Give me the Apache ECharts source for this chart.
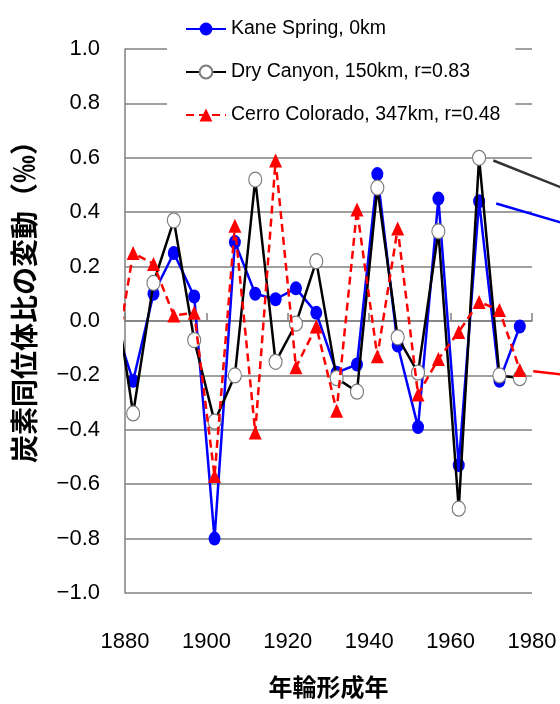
<!DOCTYPE html>
<html>
<head>
<meta charset="utf-8">
<script src="https://cdn.jsdelivr.net/npm/echarts@6.0.0/dist/echarts.min.js"></script>
<style>
html,body{margin:0;padding:0;background:#fff;}
#chart{width:560px;height:704px;}
</style>
</head>
<body>
<div id="chart"></div>
<script>
// ---- data ----
var years = [1877,1882,1887,1892,1897,1902,1907,1912,1917,1922,1927,1932,1937,1942,1947,1952,1957,1962,1967,1972,1977];
var kaneSpring = [0.01,-0.22,0.10,0.25,0.09,-0.80,0.29,0.10,0.08,0.12,0.03,-0.19,-0.16,0.54,-0.09,-0.39,0.45,-0.53,0.44,-0.22,-0.02];
var dryCanyon  = [0.15,-0.34,0.14,0.37,-0.07,-0.37,-0.20,0.52,-0.15,-0.01,0.22,-0.21,-0.26,0.49,-0.06,-0.19,0.33,-0.69,0.60,-0.20,-0.21];
var cerroColorado = [-0.20,0.25,0.21,0.02,0.03,-0.57,0.35,-0.41,0.59,-0.17,-0.02,-0.33,0.41,-0.13,0.34,-0.27,-0.14,-0.04,0.07,0.04,-0.18];
var seriesNames = ['Kane Spring, 0km','Dry Canyon, 150km, r=0.83','Cerro Colorado, 347km, r=0.48'];
// leader lines running off the right edge (data coordinates)
var leaderKaneX = [1971.2, 1988];
var leaderKaneY = [0.432, 0.358];
var leaderDryX = [1970.5, 1988];
var leaderDryY = [0.590, 0.486];
var leaderCerroX = [1980.3, 1988];
var leaderCerroY = [-0.185, -0.198];
var xTicks = {min:1880, max:1980, interval:20};
var yTicks = {min:-1.0, max:1.0, interval:0.2};
var xTitle = '年輪形成年';
var yTitle = '炭素同位体比の変動（‰）';

function pairs(xs, ys){ return xs.map(function(x,i){ return [x, ys[i]]; }); }

var latin = '"Liberation Sans",Arial,sans-serif';
var cjk = '"Noto Sans CJK JP","Noto Sans CJK SC",sans-serif';

var chart = echarts.init(document.getElementById('chart'), null, {renderer:'canvas'});
var option = {
  backgroundColor:'#ffffff',
  animation:false,
  grid:{left:125, right:28, top:49, bottom:111, containLabel:false, outerBoundsMode:'none'},
  legend:{
    data:seriesNames,
    orient:'vertical',
    left:167, top:0,
    padding:[19,15,14,18],
    itemGap:23,
    itemWidth:40, itemHeight:16,
    backgroundColor:'#ffffff',
    textStyle:{fontFamily:latin, fontSize:19.5, color:'#000'}
  },
  xAxis:{
    type:'value', min:xTicks.min, max:xTicks.max, interval:xTicks.interval,
    axisLine:{show:true, lineStyle:{color:'#808080', width:1.5}},
    axisTick:{show:true, inside:true, length:8, lineStyle:{color:'#808080', width:1.5}},
    splitLine:{show:false},
    axisLabel:{fontFamily:latin, fontSize:22, color:'#000', margin:38,
      formatter:function(v){ return String(Math.round(v)); }},
    name:xTitle, nameLocation:'middle', nameGap:82,
    nameTextStyle:{fontFamily:cjk, fontSize:24, fontWeight:'bold', color:'#000'}
  },
  yAxis:{
    type:'value', min:yTicks.min, max:yTicks.max, interval:yTicks.interval,
    axisLine:{show:true, lineStyle:{color:'#808080', width:1.5}},
    axisTick:{show:false},
    splitLine:{show:true, lineStyle:{color:'#808080', width:1.5}},
    axisLabel:{fontFamily:latin, fontSize:22, color:'#000', margin:25,
      formatter:function(v){ if(Math.abs(v)<1e-9) v=0; return v.toFixed(1).replace('-', '\u2212'); }},
    name:yTitle, nameLocation:'middle', nameGap:87,
    nameTextStyle:{fontFamily:cjk, fontSize:28, fontWeight:'bold', color:'#000', padding:[0,0,0,52]}
  },
  series:[
    {
      name:seriesNames[0], type:'line', data:pairs(years, kaneSpring),
      symbol:'circle', symbolSize:[12,14], showAllSymbol:true,
      lineStyle:{color:'#0000ff', width:2.5},
      itemStyle:{color:'#0000ff'},
      z:2
    },
    {
      name:seriesNames[1], type:'line', data:pairs(years, dryCanyon),
      symbol:'circle', symbolSize:[13,15], showAllSymbol:true,
      lineStyle:{color:'#000000', width:2.5},
      itemStyle:{color:'#ffffff', borderColor:'#7a7a7a', borderWidth:1.2},
      z:3
    },
    {
      name:seriesNames[2], type:'line', data:pairs(years, cerroColorado),
      symbol:'triangle', symbolSize:[13,14], showAllSymbol:true,
      lineStyle:{color:'#ff0000', width:2.5, type:[8,5]},
      itemStyle:{color:'#ff0000'},
      z:4
    }
  ]
};
chart.setOption(option);

// leader lines (off the plot to the right) placed through the chart's own scales
function leader(xs, ys, color){
  var pts = xs.map(function(x,i){ return chart.convertToPixel({gridIndex:0}, [x, ys[i]]); });
  return {type:'polyline', silent:true, z:5,
    shape:{points:pts}, style:{stroke:color, lineWidth:2.5, fill:null}};
}
chart.setOption({graphic:[
  leader(leaderKaneX, leaderKaneY, '#0000ff'),
  leader(leaderDryX, leaderDryY, '#333333'),
  leader(leaderCerroX, leaderCerroY, '#ff0000')
]});
</script>
</body>
</html>
